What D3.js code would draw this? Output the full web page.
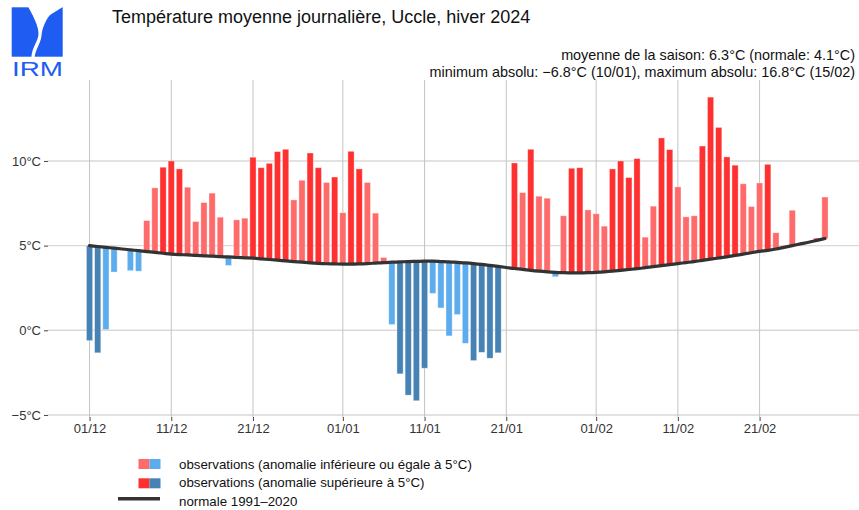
<!DOCTYPE html>
<html>
<head>
<meta charset="utf-8">
<script src="https://cdn.jsdelivr.net/npm/d3@7"></script>
<style>
  body { margin: 0; background: #fff; }
  svg { display: block; font-family: "Liberation Sans", Arial, sans-serif; }
</style>
</head>
<body>
<svg id="chart" width="859" height="510"></svg>
<script>
// daily mean temperature, Uccle, winter 2024
const decTemps = [-0.61, -1.33, 0.04, 3.44, 4.8, 3.52, 3.49, 6.48, 8.41, 9.63, 10.0, 9.53, 8.45, 6.42, 7.54, 8.1,
  6.68, 3.83, 6.52, 6.62, 10.22, 9.6, 9.86, 10.55, 10.69, 7.7, 8.86, 10.47, 9.6, 8.73, 9.05]
const janTemps = [6.94, 10.57, 9.53, 8.73, 6.92, 4.3, 0.34, -2.57, -3.83, -4.16, -2.24, 2.18, 1.32, -0.33, 0.93, -0.77,
  -1.79, -1.3, -1.65, -1.33, 3.71, 9.88, 8.13, 10.69, 7.92, 7.8, 3.16, 6.76, 9.57, 9.6, 7.11]
const febTemps = [6.88, 6.15, 9.53, 10.0, 9.02, 10.14, 5.5, 7.33, 11.36, 10.67, 8.47, 6.7, 6.76, 10.88, 13.77, 11.98,
  10.24, 9.75, 8.65, 7.31, 8.7, 9.8, 5.76, 5.0, 7.09, 5.1, 5.2, 5.45, 7.87]

// normale 1991-2020
const decNormal = [5.0, 4.95, 4.9, 4.85, 4.8, 4.75, 4.7, 4.65, 4.6, 4.55, 4.5, 4.47, 4.45, 4.42, 4.4, 4.38, 4.35,
  4.33, 4.3, 4.28, 4.26, 4.22, 4.18, 4.14, 4.1, 4.06, 4.02, 3.98, 3.95, 3.93, 3.92]
const janNormal = [3.91, 3.91, 3.92, 3.94, 3.97, 4.0, 4.02, 4.04, 4.06, 4.07, 4.08, 4.08, 4.06, 4.04, 4.01, 3.98, 3.94,
  3.89, 3.83, 3.77, 3.71, 3.65, 3.6, 3.54, 3.49, 3.45, 3.42, 3.4, 3.39, 3.39, 3.4]
const febNormal = [3.42, 3.45, 3.49, 3.54, 3.59, 3.64, 3.7, 3.76, 3.82, 3.88, 3.94, 4.0, 4.06, 4.13, 4.2, 4.27, 4.34,
  4.42, 4.5, 4.58, 4.66, 4.72, 4.8, 4.9, 5.0, 5.1, 5.2, 5.31, 5.42]

const yTicks = [-5, 0, 5, 10]
const xTickDates = ["2023-12-01", "2023-12-11", "2023-12-21", "2024-01-01", "2024-01-11", "2024-01-21",
  "2024-02-01", "2024-02-11", "2024-02-21"]

const titleText = "Température moyenne journalière, Uccle, hiver 2024"
const subLines = ["moyenne de la saison: 6.3°C (normale: 4.1°C)",
  "minimum absolu: \u22126.8°C (10/01), maximum absolu: 16.8°C (15/02)"]
const legendLabels = ["observations (anomalie inférieure ou égale à 5°C)",
  "observations (anomalie supérieure à 5°C)", "normale 1991\u20132020"]

const colors = { warmLight: "#ff6a6a", warmStrong: "#ff3030", coldLight: "#5cacee", coldStrong: "#4682b4" }

const temps = decTemps.concat(janTemps, febTemps)
const normals = decNormal.concat(janNormal, febNormal)
const start = new Date(Date.UTC(2023, 11, 1))
const days = temps.map((t, i) => ({
  date: d3.utcDay.offset(start, i),
  value: t,
  normal: normals[i],
}))

const svg = d3.select("#chart")
const plotL = 48, plotR = 859, plotT = 80, plotB = 417

const x = d3.scaleUtc()
  .domain([d3.utcHour.offset(start, -121.3), d3.utcHour.offset(start, 94.2 * 24)])
  .range([plotL, plotR])
const y = d3.scaleLinear().domain([-5.12, 14.78]).range([plotB, plotT])

const fmtDate = d3.utcFormat("%d/%m")
const fmtDeg = (d) => (d < 0 ? "\u2212" + Math.abs(d) : d) + "°C"
const xTicks = xTickDates.map((s) => new Date(s + "T00:00:00Z"))

// grid
const grid = svg.append("g")
grid.selectAll(".hgrid").data(yTicks).join("line")
  .attr("x1", plotL).attr("x2", plotR)
  .attr("y1", (d) => y(d)).attr("y2", (d) => y(d))
  .attr("stroke", "#d9d9d9").attr("stroke-width", 1.4)
grid.selectAll(".vgrid").data(xTicks).join("line")
  .attr("x1", (d) => x(d)).attr("x2", (d) => x(d))
  .attr("y1", plotT).attr("y2", plotB)
  .attr("stroke", "#c4c4c4").attr("stroke-width", 1)

// axes
const yAxis = svg.append("g").attr("transform", `translate(${plotL},0)`)
  .call(d3.axisLeft(y).tickValues(yTicks).tickSize(4).tickPadding(3).tickFormat(fmtDeg))
const xAxis = svg.append("g").attr("transform", `translate(0,${plotB})`)
  .call(d3.axisBottom(x).tickValues(xTicks).tickSize(4).tickPadding(3).tickFormat(fmtDate))
for (const ax of [yAxis, xAxis]) {
  ax.select(".domain").remove()
  ax.selectAll(".tick line").attr("stroke", "#444")
  ax.selectAll(".tick text").attr("fill", "#333").style("font-size", "13px")
    .style("font-family", "'Liberation Sans', Arial, sans-serif")
}

// bars from normal to observation
function barColor(d) {
  const a = d.value - d.normal
  if (a >= 0) return a > 5 ? colors.warmStrong : colors.warmLight
  return a < -5 ? colors.coldStrong : colors.coldLight
}
const barW = 6.2
svg.append("g").selectAll("rect").data(days).join("rect")
  .attr("x", (d) => x(d.date) - barW / 2)
  .attr("width", barW)
  .attr("y", (d) => Math.min(y(d.value), y(d.normal)))
  .attr("height", (d) => Math.abs(y(d.value) - y(d.normal)))
  .attr("fill", barColor)
  .attr("stroke", "#fff").attr("stroke-opacity", 0.45).attr("stroke-width", 0.8)

// normal curve
const line = d3.line().x((d) => x(d.date)).y((d) => y(d.normal)).curve(d3.curveMonotoneX)
svg.append("path").datum(days).attr("d", line)
  .attr("fill", "none").attr("stroke", "#333").attr("stroke-width", 3.2).attr("stroke-linecap", "round")

// titles
svg.append("text").attr("x", 112).attr("y", 23).text(titleText)
  .style("font-size", "18px").attr("fill", "#111")
svg.selectAll(".sub").data(subLines).join("text")
  .attr("x", 855).attr("y", (d, i) => 60 + i * 16.7)
  .attr("text-anchor", "end").style("font-size", "14.4px").attr("fill", "#111")
  .text((d) => d)

// legend
const lg = svg.append("g")
const swatches = [[colors.warmLight, colors.coldLight], [colors.warmStrong, colors.coldStrong]]
swatches.forEach((pair, i) => {
  pair.forEach((c, j) => {
    lg.append("rect").attr("x", 138.5 + j * 11).attr("y", 459 + i * 19.3)
      .attr("width", 11).attr("height", 10).attr("fill", c)
  })
})
lg.append("line").attr("x1", 118).attr("x2", 160).attr("y1", 498.7).attr("y2", 498.7)
  .attr("stroke", "#333").attr("stroke-width", 3.5)
lg.selectAll("text").data(legendLabels).join("text")
  .attr("x", 179).attr("y", (d, i) => 469 + i * 18.3)
  .style("font-size", "13.3px").attr("fill", "#111")
  .text((d) => d)

// IRM logo
const logo = svg.append("g")
logo.append("rect").attr("x", 11.7).attr("y", 7.3).attr("width", 51).attr("height", 49.4).attr("fill", "#1f5cf2")
logo.append("path")
  .attr("d", "M28,6.5 L63.5,6.5 L50,15 C45,21 42,29 41.5,36 C40.5,44 35.5,49 34.5,57.5 L31.5,57.5 " +
    "C31.5,51 35,45 37.5,39 C41,31 35,19 28,6.5 Z")
  .attr("fill", "#fff")
logo.append("text").attr("x", 12).attr("y", 75.5).text("IRM")
  .attr("textLength", 51).attr("lengthAdjust", "spacingAndGlyphs")
  .style("font-size", "21px").attr("fill", "#1f5cf2")
</script>
</body>
</html>
